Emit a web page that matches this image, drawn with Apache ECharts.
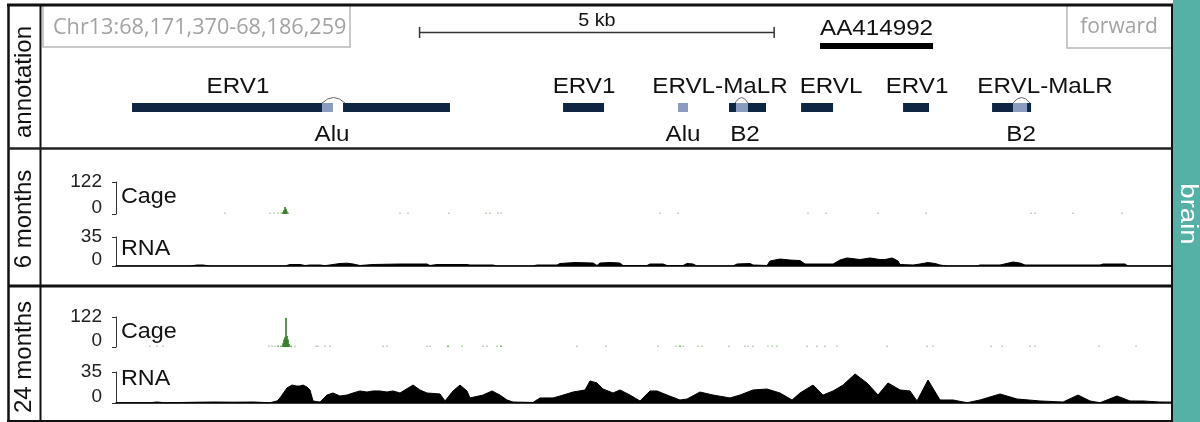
<!DOCTYPE html>
<html><head><meta charset="utf-8">
<script src="https://cdn.jsdelivr.net/npm/echarts@6/dist/echarts.min.js"></script>
<style>html,body{margin:0;padding:0;background:#fff}#c{width:1200px;height:422px}</style>
</head><body><div id="c"></div>
<script>
// ---------------- DATA (positions are bp offsets from regionStart) ----------------
const regionChrom = 'Chr13';
const regionStart = 68171370;
const regionEnd = 68186259;
const strandLabel = 'forward';
const tissueLabel = 'brain';
const panelLabels = ['annotation', '6 months', '24 months'];
const trackNames = ['Cage', 'RNA'];
const cageMax = 122;
const rnaMax = 35;

const scaleBarStart = 4280;
const scaleBarLength = 5000;

const geneNames = ['AA414992'];
const geneStarts = [9926];
const geneEnds = [11520];

const repeatBlockStarts = [226, 3201, 6303, 8643, 8911, 9659, 11097, 12352, 12845];
const repeatBlockEnds   = [2905, 4709, 6881, 8742, 9165, 10110, 11463, 12648, 12902];
const subBlockStarts = [2905, 7924, 8742, 12648];
const subBlockEnds   = [3060, 8065, 8911, 12845];
const connectorStarts = [2905, 8728, 12648];
const connectorEnds   = [3229, 8911, 12887];

const repeatLabels = ['ERV1', 'ERV1', 'ERVL-MaLR', 'ERVL', 'ERV1', 'ERVL-MaLR'];
const repeatLabelAt = [1720, 6599, 8516, 10082, 11294, 13099];
const subLabels = ['Alu', 'Alu', 'B2', 'B2'];
const subLabelAt = [3046, 7995, 8869, 12761];

const cage6Pos = [1537,2171,2228,2284,2327,2355,2369,2383,2397,2411,2425,4004,4117,4695,5217,5273,5386,5429,7670,7924,9757,10011,10744,11421,12902,12958,13494,14185];
const cage6Val = [1,1,1,1,2,8,15,27,20,10,4,1,1,1,1,1,1,1,1,1,1,1,1,1,1,1,1,1];

const rna6Pos = [14,1043,1142,1227,1325,2383,2453,2594,2665,2735,2876,2947,3158,3257,3342,3440,3624,4004,4385,4427,4526,4949,4991,5316,5372,5880,5936,6218,6260,6472,6726,6782,6824,6965,7106,7149,7487,7529,7713,7769,7995,8051,8136,8192,8700,8756,8939,8982,9179,9221,9362,9503,9644,9715,10110,10208,10307,10490,10631,10772,10843,10942,11026,11054,11238,11336,11449,11548,11618,11717,12140,12182,12464,12648,12746,12817,13310,13874,13917,14227,14269,14889];
const rna6Val = [0,0,1.2,1.2,0,0,1.8,1.8,0.6,1.2,1.2,0.4,3,3.4,2.4,0.6,1.8,2.4,2.4,0.6,1.8,1.8,1.2,1.2,0,0,1.2,1.2,3,4.2,3.6,0.6,3.6,4.2,3.6,0.6,0.6,2.4,2.4,0.6,0.6,3,2.4,0,0,2.4,3,1.2,0.6,6,8.4,7.2,6.6,2.4,2.4,7.2,9.7,7.8,9.7,7.8,7.8,9.7,6,1.8,1.2,2.4,4.2,3,1.2,0,0,1.2,1.2,4.8,3.6,1.2,1.2,1.2,2.4,2.4,0,0];

const cage24Pos = [479,578,663,2157,2200,2242,2284,2327,2355,2369,2383,2397,2411,2425,2439,2468,2524,2820,2848,2947,3017,3765,3821,4385,4427,4681,4879,5175,5231,5372,5429,6500,6909,7642,7896,7952,7995,8206,8263,8643,8869,8911,8982,9193,9250,9320,9743,9884,9997,10166,10871,11435,11520,12338,12493,12887,12958,13860,14382];
const cage24Val = [1,1,1,2,2,2,3,5,15,30,40,118,45,30,12,3,2,1,1,1,1,1,1,1,1,3,1,1,1,1,3,1,1,1,1,3,1,1,1,1,1,1,1,1,1,1,1,1,1,1,1,1,1,1,1,1,1,1,1];

const rna24Pos = [14,479,578,691,1184,1396,1650,1932,2171,2270,2312,2411,2482,2538,2594,2637,2693,2735,2778,2876,2975,3060,3158,3257,3342,3440,3539,3624,3722,3821,3906,4004,4188,4286,4385,4568,4639,4752,4850,4949,4991,5175,5302,5414,5513,5598,5880,5978,6162,6260,6444,6613,6683,6782,6867,7008,7106,7247,7388,7529,7628,7769,7952,8051,8234,8418,8657,8798,8982,9179,9362,9532,9644,9828,9969,10110,10251,10420,10589,10744,10885,11054,11195,11294,11449,11576,11618,11802,11999,12182,12464,12704,13028,13353,13564,13733,13874,14114,14297,14481,14720,14889];
const rna24Val = [0.3,0.3,1.1,0.3,0.9,1.1,0.9,1.1,0.3,2.3,5.7,17,20.3,19.2,19.2,20.3,18,14.7,2.3,1.1,9,11.3,7.9,9,11.3,13.6,12.4,13.6,13.6,12.4,13.6,11.3,20.3,14.7,11.3,10.2,2.3,13.6,20.3,13.6,5.7,9,13.6,9,3.4,1.1,0.6,5.7,5.7,7.9,12.4,14.7,24.9,22.6,15.8,11.3,14.7,9,2.3,13.6,13.6,9,3.4,4.5,12.4,9,5.7,9,14.7,15.8,11.3,3.4,11.3,20.3,9,13.6,20.3,32.8,22.6,9,22.6,14.7,13.6,2.3,26,9,3.4,3.4,0.3,3.4,10.2,4.5,2.3,1.1,9,2.3,0.3,7.9,2.3,2.3,1.1,1.1];

// ---------------- RENDERING ----------------
const regionLen = regionEnd - regionStart;
const fmt = n => n.toLocaleString('en-US');
const SANS = '"Liberation Sans", Arial, Helvetica, sans-serif';
const BOX = '"Open Sans", "Noto Sans", sans-serif';
const DARK = '#0f2643';
const LIGHT = '#8a9cbf';
const pairs = (a, b) => a.map((v, i) => [v, b[i]]);

const gridDefs = [
  {top: 103, height: 9},   // 0 repeats
  {top: 27, height: 11},   // 1 scale bar
  {top: 43, height: 6},    // 2 gene
  {top: 182, height: 32},  // 3 cage 6m
  {top: 237, height: 29},  // 4 rna 6m
  {top: 317, height: 30},  // 5 cage 24m
  {top: 372, height: 31}   // 6 rna 24m
];
const grids = gridDefs.map(g => ({left: 116, right: 28, top: g.top, height: g.height, containLabel: false}));
const xAxes = gridDefs.map((g, i) => ({
  gridIndex: i, type: 'value', min: 0, max: regionLen,
  show: (i === 4 || i === 6),
  axisLine: {show: true, onZero: false, lineStyle: {color: '#000', width: 1.5}},
  axisTick: {show: false}, axisLabel: {show: false}, splitLine: {show: false}
}));
function trackY(i, max) {
  return {
    gridIndex: i, type: 'value', min: 0, max: max, interval: max, offset: 2,
    axisLine: {show: true, lineStyle: {color: '#333', width: 1}},
    axisTick: {show: true, length: 4, lineStyle: {color: '#333', width: 1}},
    splitLine: {show: false},
    axisLabel: {
      margin: 12, color: '#222', fontSize: 19, fontFamily: SANS,
      formatter: v => v === 0 ? '{z|0}' : '{t|' + v + '}',
      rich: {z: {fontSize: 19, fontFamily: SANS, color: '#222', padding: [0, 0, 12, 0]},
             t: {fontSize: 19, fontFamily: SANS, color: '#222'}}
    }
  };
}
const yAxes = [
  {gridIndex: 0, type: 'value', min: 0, max: 1, show: false},
  {gridIndex: 1, type: 'value', min: 0, max: 1, show: false},
  {gridIndex: 2, type: 'value', min: 0, max: 1, show: false},
  trackY(3, cageMax), trackY(4, rnaMax), trackY(5, cageMax), trackY(6, rnaMax)
];

function rectItem(color) {
  return function (params, api) {
    const p0 = api.coord([api.value(0), 1]);
    const p1 = api.coord([api.value(1), 0]);
    return {type: 'rect', shape: {x: p0[0], y: p0[1], width: p1[0] - p0[0], height: p1[1] - p0[1]}, style: {fill: color}};
  };
}
function textEl(x, y, txt, size, color, font, sx) {
  return {type: 'text', x: x, y: y, scaleX: sx || 1,
    style: {text: txt, fill: color, font: size + 'px ' + font, align: 'center', verticalAlign: 'middle'}};
}
function cageItem(params, api) {
  const v = api.value(1);
  const b = api.coord([api.value(0), 0]);
  const t = api.coord([api.value(0), v]);
  const h = Math.max(b[1] - t[1], 1.5);
  const c = v >= 8 ? '#2f7d22' : (v >= 3 ? '#6aa35c' : '#b3d0a9');
  return {type: 'rect', shape: {x: b[0] - 0.8, y: b[1] - h, width: 1.6, height: h}, style: {fill: c}};
}

const series = [
  {type: 'custom', xAxisIndex: 0, yAxisIndex: 0, silent: true, clip: false,
   data: pairs(repeatBlockStarts, repeatBlockEnds), renderItem: rectItem(DARK)},
  {type: 'custom', xAxisIndex: 0, yAxisIndex: 0, silent: true, clip: false,
   data: pairs(subBlockStarts, subBlockEnds), renderItem: rectItem(LIGHT)},
  {type: 'custom', xAxisIndex: 0, yAxisIndex: 0, silent: true, clip: false,
   data: pairs(connectorStarts, connectorEnds),
   renderItem: (p, api) => {
     const a = api.coord([api.value(0), 1]);
     const b = api.coord([api.value(1), 1]);
     return {type: 'bezierCurve', shape: {x1: a[0], y1: a[1], x2: b[0], y2: b[1], cpx1: (a[0] + b[0]) / 2, cpy1: a[1] - 11},
       style: {stroke: '#666', lineWidth: 1, fill: null}};
   }},
  {type: 'custom', xAxisIndex: 0, yAxisIndex: 0, silent: true, clip: false,
   data: repeatLabelAt.map((v, i) => [v, i]),
   renderItem: (p, api) => {
     const pt = api.coord([api.value(0), 1]);
     return textEl(pt[0], pt[1] - 16, repeatLabels[api.value(1)], 22, '#111', SANS, 1.1);
   }},
  {type: 'custom', xAxisIndex: 0, yAxisIndex: 0, silent: true, clip: false,
   data: subLabelAt.map((v, i) => [v, i]),
   renderItem: (p, api) => {
     const pt = api.coord([api.value(0), 0]);
     return textEl(pt[0], pt[1] + 23, subLabels[api.value(1)], 22, '#111', SANS, 1.1);
   }},
  // scale bar
  {type: 'custom', xAxisIndex: 1, yAxisIndex: 1, silent: true, clip: false,
   data: [[scaleBarStart, scaleBarStart + scaleBarLength]],
   renderItem: (p, api) => {
     const a = api.coord([api.value(0), 1]);
     const b = api.coord([api.value(1), 0]);
     const mid = (a[1] + b[1]) / 2;
     const st = {stroke: '#333', lineWidth: 1.5};
     return {type: 'group', children: [
       {type: 'line', shape: {x1: a[0], y1: mid, x2: b[0], y2: mid}, style: st},
       {type: 'line', shape: {x1: a[0], y1: a[1], x2: a[0], y2: b[1]}, style: st},
       {type: 'line', shape: {x1: b[0], y1: a[1], x2: b[0], y2: b[1]}, style: st},
       textEl((a[0] + b[0]) / 2, a[1] - 6, (api.value(1) - api.value(0)) / 1000 + ' kb', 18, '#111', SANS, 1.1)
     ]};
   }},
  // gene
  {type: 'custom', xAxisIndex: 2, yAxisIndex: 2, silent: true, clip: false,
   data: geneStarts.map((s, i) => [s, geneEnds[i], i]),
   renderItem: (p, api) => {
     const a = api.coord([api.value(0), 1]);
     const b = api.coord([api.value(1), 0]);
     return {type: 'group', children: [
       {type: 'rect', shape: {x: a[0], y: a[1], width: b[0] - a[0], height: b[1] - a[1]}, style: {fill: '#000'}},
       textEl((a[0] + b[0]) / 2, a[1] - 14, geneNames[api.value(2)], 22, '#111', SANS, 1.1)
     ]};
   }},
  {type: 'custom', xAxisIndex: 3, yAxisIndex: 3, silent: true, data: pairs(cage6Pos, cage6Val), renderItem: cageItem},
  {type: 'line', xAxisIndex: 4, yAxisIndex: 4, silent: true, data: pairs(rna6Pos, rna6Val), symbol: 'none',
   lineStyle: {color: '#000', width: 1}, areaStyle: {color: '#000', opacity: 1}},
  {type: 'custom', xAxisIndex: 5, yAxisIndex: 5, silent: true, data: pairs(cage24Pos, cage24Val), renderItem: cageItem},
  {type: 'line', xAxisIndex: 6, yAxisIndex: 6, silent: true, data: pairs(rna24Pos, rna24Val), symbol: 'none',
   lineStyle: {color: '#000', width: 1}, areaStyle: {color: '#000', opacity: 1}}
];

function gLine(x1, y1, x2, y2, w, c) {
  return {type: 'line', silent: true, shape: {x1, y1, x2, y2}, style: {stroke: c || '#111', lineWidth: w}};
}
function gText(x, y, txt, size, color, font, opts) {
  return Object.assign({type: 'text', silent: true, x: x, y: y,
    style: {text: txt, fill: color, font: size + 'px ' + font, align: 'center', verticalAlign: 'middle'}}, opts || {});
}
const regionText = regionChrom + ':' + fmt(regionStart) + '-' + fmt(regionEnd);
const graphic = [
  {type: 'rect', silent: true, shape: {x: 1173, y: 0, width: 27, height: 422}, style: {fill: '#55b1a6'}},
  gText(1187, 214, tissueLabel, 23, '#fff', SANS, {rotation: -Math.PI / 2, scaleX: 1.2}),
  {type: 'rect', silent: true, shape: {x: 43, y: 5, width: 307, height: 42}, style: {fill: 'none', stroke: '#b8b8b8', lineWidth: 1.5}},
  {type: 'text', silent: true, x: 53, y: 28, scaleX: 1.03,
   style: {text: regionText, fill: '#a3a3a3', font: '21px ' + BOX, align: 'left', verticalAlign: 'middle'}},
  {type: 'rect', silent: true, shape: {x: 1067, y: 5, width: 105, height: 43}, style: {fill: 'none', stroke: '#b8b8b8', lineWidth: 1.5}},
  gText(1119, 27, strandLabel, 21, '#a3a3a3', BOX),
  gText(24, 82, panelLabels[0], 24, '#111', SANS, {rotation: Math.PI / 2}),
  gText(24, 219, panelLabels[1], 24, '#111', SANS, {rotation: Math.PI / 2}),
  gText(24, 357, panelLabels[2], 24, '#111', SANS, {rotation: Math.PI / 2})
];
[[197, 249], [332, 379]].forEach(ys => {
  graphic.push({type: 'text', silent: true, x: 121, y: ys[0], scaleX: 1.06,
    style: {text: trackNames[0], fill: '#111', font: '22px ' + SANS, align: 'left', verticalAlign: 'middle'}});
  graphic.push({type: 'text', silent: true, x: 121, y: ys[1], scaleX: 1.06,
    style: {text: trackNames[1], fill: '#111', font: '22px ' + SANS, align: 'left', verticalAlign: 'middle'}});
});
graphic.push(
  gLine(7, 5, 1173, 5, 3),
  gLine(7, 421, 1173, 421, 2),
  gLine(8.5, 4, 8.5, 422, 2.5),
  gLine(40.5, 5, 40.5, 422, 2),
  gLine(1172, 4, 1172, 422, 2),
  gLine(8, 148.5, 1172, 148.5, 2.5, '#222'),
  gLine(8, 286, 1172, 286, 3)
);

const chart = echarts.init(document.getElementById('c'), null, {renderer: 'canvas'});
chart.setOption({
  animation: false,
  backgroundColor: '#fff',
  grid: grids, xAxis: xAxes, yAxis: yAxes, series: series, graphic: graphic
});
</script></body></html>
